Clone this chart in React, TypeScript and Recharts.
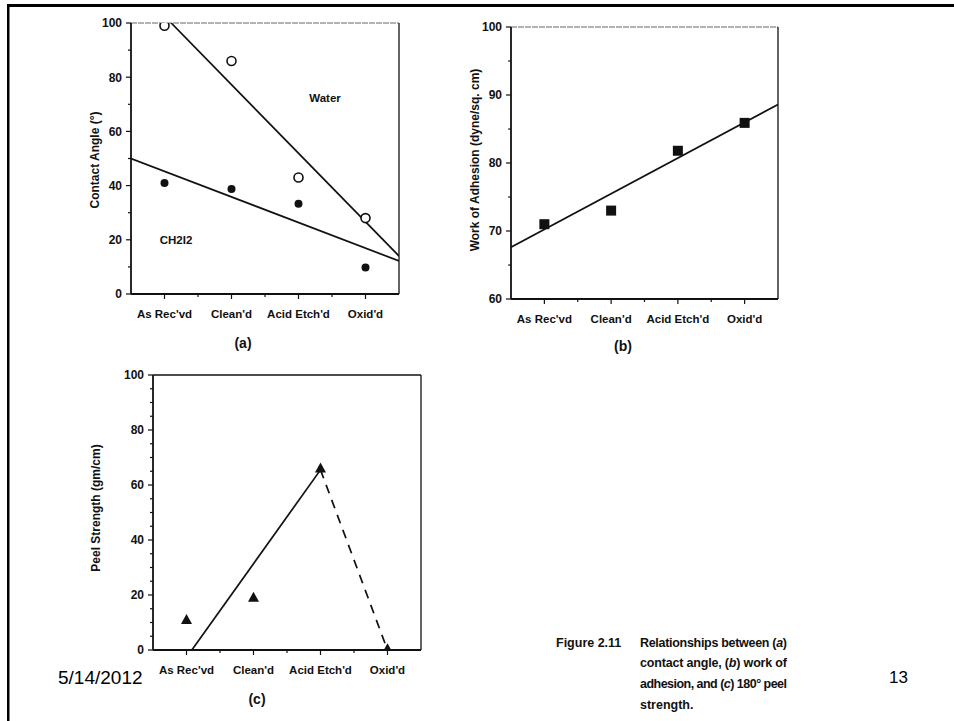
import React from 'react';
import { ScatterChart, Scatter, XAxis, YAxis, ReferenceLine } from 'recharts';

// ---------- data ----------
const categories = ["As Rec'vd", "Clean'd", "Acid Etch'd", "Oxid'd"];
const categoryPos = [1, 2, 3, 4];

// (a) contact angle
const waterAngle = [99, 86, 43, 28];
const ch2i2Angle = [41, 38.7, 33.3, 9.8];
const waterFitX = [1.1, 4.5];
const waterFitY = [100, 14];
const ch2i2FitX = [0.5, 4.5];
const ch2i2FitY = [50, 12.2];

// (b) work of adhesion
const adhesion = [71, 73, 81.8, 85.9];
const adhesionFitX = [0.5, 4.5];
const adhesionFitY = [67.6, 88.6];

// (c) peel strength
const peel = [10.9, 19, 66, 0.3];
const peelSolidX = [1.08, 3];
const peelSolidY = [0, 65.5];
const peelDashX = [3, 4];
const peelDashY = [65.5, 0];

// ticks
const aYMajor = [0, 20, 40, 60, 80, 100];
const aYMinor = [10, 30, 50, 70, 90];
const bYMajor = [60, 70, 80, 90, 100];
const bYMinor = [65, 75, 85, 95];
const cYMajor = [0, 20, 40, 60, 80, 100];
const cYMinor = [5, 10, 15, 25, 30, 35, 45, 50, 55, 65, 70, 75, 85, 90, 95];
const xMinor = [1.5, 2.5, 3.5];

const zip = (xs: number[], ys: number[]) => xs.map((x, i) => ({ x, y: ys[i] }));

// ---------- styling helpers ----------
const INK = '#111';
const FONT = '"Liberation Sans", Arial, Helvetica, sans-serif';

const makeYTick = (majors: number[]) => (props: any) => {
  const { x, y, payload } = props;
  const v = payload.value;
  const major = majors.includes(v);
  return (
    <g>
      <line x1={x - (major ? 5 : 3)} x2={x} y1={y} y2={y} stroke={INK} strokeWidth={1.2} />
      {major && (
        <text x={x - 9} y={y} dy="0.36em" textAnchor="end" fontFamily={FONT} fontWeight="bold" fontSize={12} fill={INK}>
          {v}
        </text>
      )}
    </g>
  );
};

const XTick = (props: any) => {
  const { x, y, payload } = props;
  const v = payload.value;
  const idx = categoryPos.indexOf(v);
  const major = idx >= 0;
  return (
    <g>
      <line x1={x} x2={x} y1={y} y2={y + (major ? 5 : 3)} stroke={INK} strokeWidth={1.2} />
      {major && (
        <text x={x} y={y + 20} dy="0.36em" textAnchor="middle" fontFamily={FONT} fontWeight="bold" fontSize={11.5} fill={INK}>
          {categories[idx]}
        </text>
      )}
    </g>
  );
};

const nothing = () => <g />;

const OpenCircle = (p: any) => <circle cx={p.cx} cy={p.cy} r={4.5} fill="#fff" stroke={INK} strokeWidth={1.6} />;
const FilledCircle = (p: any) => <circle cx={p.cx} cy={p.cy} r={4} fill={INK} />;
const Square = (p: any) => <rect x={p.cx - 5} y={p.cy - 5} width={10} height={10} fill={INK} />;
const Triangle = (p: any) => (
  <polygon points={`${p.cx},${p.cy - 6} ${p.cx - 5.5},${p.cy + 4} ${p.cx + 5.5},${p.cy + 4}`} fill={INK} />
);

const W = 954;
const H = 721;

type PanelProps = {
  left: number; right: number; top: number; bottom: number;
  yDomain: [number, number]; yTicks: number[]; yMajor: number[];
  topStroke: string; children: React.ReactNode;
};

const Panel = ({ left, right, top, bottom, yDomain, yTicks, yMajor, topStroke, children }: PanelProps) => (
  <div style={{ position: 'absolute', left: 0, top: 0, width: W, height: H }}>
    <ScatterChart
      width={W}
      height={H}
      margin={{ left: left - 1, right: W - right, top, bottom: H - bottom - 1 }}
    >
      <XAxis
        type="number"
        dataKey="x"
        domain={[0.5, 4.5]}
        ticks={[...categoryPos, ...xMinor].sort((a, b) => a - b)}
        interval={0}
        height={1}
        tickSize={0}
        tickMargin={0}
        tickLine={false}
        tick={XTick}
        axisLine={{ stroke: INK, strokeWidth: 1.8 }}
        allowDataOverflow
      />
      <YAxis
        type="number"
        dataKey="y"
        domain={yDomain}
        ticks={yTicks}
        interval={0}
        width={1}
        tickSize={0}
        tickMargin={0}
        tickLine={false}
        tick={makeYTick(yMajor)}
        axisLine={{ stroke: INK, strokeWidth: 1.8 }}
        allowDataOverflow
      />
      <ReferenceLine y={yDomain[1]} stroke={topStroke} strokeWidth={1.3} strokeDasharray={topStroke === INK ? undefined : '6 1'} />
      <ReferenceLine x={4.5} stroke={INK} strokeWidth={1.3} />
      {children}
    </ScatterChart>
  </div>
);

export default function App() {
  const aYTicks = [...aYMajor, ...aYMinor].sort((a, b) => a - b);
  const bYTicks = [...bYMajor, ...bYMinor].sort((a, b) => a - b);
  const cYTicks = [...cYMajor, ...cYMinor].sort((a, b) => a - b);
  return (
    <div style={{ position: 'absolute', left: 0, top: 0, width: W, height: H, background: '#fff', overflow: 'hidden' }}>
      {/* (a) */}
      <Panel left={131} right={399} top={23} bottom={294} yDomain={[0, 100]} yTicks={aYTicks} yMajor={aYMajor} topStroke="#9a9a9a">
        <Scatter data={zip(waterFitX, waterFitY)} fill={INK} line={{ stroke: INK, strokeWidth: 1.7 }} shape={nothing} isAnimationActive={false} />
        <Scatter data={zip(ch2i2FitX, ch2i2FitY)} fill={INK} line={{ stroke: INK, strokeWidth: 1.7 }} shape={nothing} isAnimationActive={false} />
        <Scatter data={zip(categoryPos, waterAngle)} fill={INK} shape={OpenCircle} isAnimationActive={false} />
        <Scatter data={zip(categoryPos, ch2i2Angle)} fill={INK} shape={FilledCircle} isAnimationActive={false} />
      </Panel>

      {/* (b) */}
      <Panel left={511} right={778} top={27} bottom={299} yDomain={[60, 100]} yTicks={bYTicks} yMajor={bYMajor} topStroke="#9a9a9a">
        <Scatter data={zip(adhesionFitX, adhesionFitY)} fill={INK} line={{ stroke: INK, strokeWidth: 1.7 }} shape={nothing} isAnimationActive={false} />
        <Scatter data={zip(categoryPos, adhesion)} fill={INK} shape={Square} isAnimationActive={false} />
      </Panel>

      {/* (c) */}
      <Panel left={153} right={421} top={375} bottom={650} yDomain={[0, 100]} yTicks={cYTicks} yMajor={cYMajor} topStroke={INK}>
        <Scatter data={zip(peelSolidX, peelSolidY)} fill={INK} line={{ stroke: INK, strokeWidth: 1.7 }} shape={nothing} isAnimationActive={false} />
        <Scatter data={zip(peelDashX, peelDashY)} fill={INK} line={{ stroke: INK, strokeWidth: 1.7, strokeDasharray: '9 7' }} shape={nothing} isAnimationActive={false} />
        <Scatter data={zip(categoryPos, peel)} fill={INK} shape={Triangle} isAnimationActive={false} />
      </Panel>

      {/* annotations */}
      <svg width={W} height={H} style={{ position: 'absolute', left: 0, top: 0, pointerEvents: 'none' }}>
        <rect x={7} y={4} width={947} height={3} fill="#000" />
        <rect x={7} y={4} width={2.5} height={717} fill="#000" />

        <g fontFamily={FONT} fontWeight="bold" fill={INK}>
          <text x={95} y={160} fontSize={12} textAnchor="middle" dy="0.36em" transform="rotate(-90 95 160)">Contact Angle (°)</text>
          <text x={475} y={160} fontSize={12} textAnchor="middle" dy="0.36em" transform="rotate(-90 475 160)">Work of Adhesion (dyne/sq. cm)</text>
          <text x={96} y={508} fontSize={12} textAnchor="middle" dy="0.36em" transform="rotate(-90 96 508)">Peel Strength (gm/cm)</text>

          <text x={325} y={98} fontSize={11.5} textAnchor="middle" dy="0.36em">Water</text>
          <text x={176} y={240} fontSize={11.5} textAnchor="middle" dy="0.36em">CH2I2</text>

          <text x={243} y={343} fontSize={14} textAnchor="middle" dy="0.36em">(a)</text>
          <text x={623} y={346} fontSize={14} textAnchor="middle" dy="0.36em">(b)</text>
          <text x={257} y={699} fontSize={14} textAnchor="middle" dy="0.36em">(c)</text>

          <text x={556} y={647} fontSize={12.5}>Figure 2.11</text>
          <text x={640} y={647} fontSize={12.5} textLength={147} lengthAdjust="spacing">
            Relationships between (<tspan fontStyle="italic">a</tspan>)
          </text>
          <text x={640} y={667} fontSize={12.5} textLength={147} lengthAdjust="spacing">
            contact angle, (<tspan fontStyle="italic">b</tspan>) work of
          </text>
          <text x={640} y={688} fontSize={12.5} textLength={147} lengthAdjust="spacing">
            adhesion, and (<tspan fontStyle="italic">c</tspan>) 180° peel
          </text>
          <text x={640} y={709} fontSize={12.5}>strength.</text>
        </g>

        <text x={58} y={684} fontFamily={FONT} fontSize={19} fill="#000">5/14/2012</text>
        <text x={889} y={683} fontFamily={FONT} fontSize={17} fill="#000">13</text>
      </svg>
    </div>
  );
}
